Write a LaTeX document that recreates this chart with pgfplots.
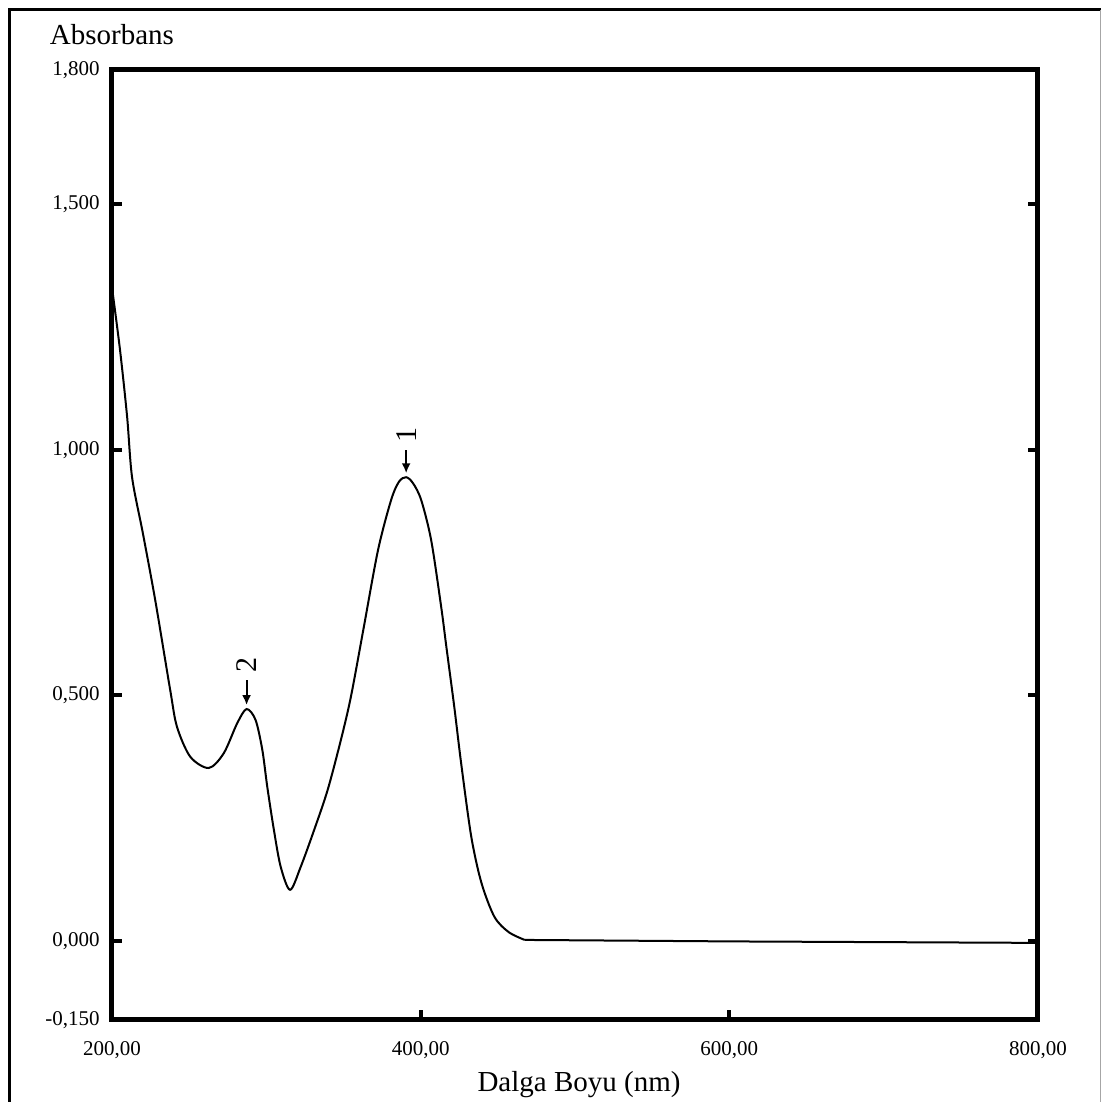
\documentclass[border=0pt]{standalone}
\usepackage{fontspec}
\setmainfont{Liberation Serif}
\usepackage{pgfplots}
\pgfplotsset{compat=1.18}
\usetikzlibrary{arrows.meta}
\begin{document}
\begin{tikzpicture}
\useasboundingbox (-56pt,-41pt) rectangle (495.5pt,510pt);
\begin{axis}[
  scale only axis,
  width=463pt, height=475pt,
  xmin=200, xmax=800,
  ymin=-0.161, ymax=1.773,
  axis line style={line width=2.5pt},
  every tick/.style={black, line width=2pt},
  major tick length=5pt,
  tick align=inside,
  xtick pos=left,
  ytick pos=both,
  xtick={200,400,600,800},
  xticklabels={{200,00},{400,00},{600,00},{800,00}},
  ytick={0,0.5,1,1.5},
  yticklabels={{0,000},{0,500},{1,000},{1,500}},
  extra y ticks={-0.161,1.773},
  extra y tick labels={{-0,150},{1,800}},
  extra y tick style={major tick length=0pt},
  ticklabel style={font=\fontsize{10.5}{12}\selectfont},
  xticklabel style={inner sep=0pt, anchor=north, yshift=-10.5pt},
  yticklabel style={inner sep=0pt, anchor=east, xshift=-6pt},
  xlabel={Dalga Boyu (nm)},
  xlabel style={font=\fontsize{14.5}{16}\selectfont, at={(axis description cs:0.5,0)}, anchor=base, yshift=-36pt, xshift=2pt},
  ylabel={Absorbans},
  ylabel style={font=\fontsize{14.5}{16}\selectfont, rotate=-90, at={(axis description cs:0,1)}, anchor=base, yshift=12.5pt},
  clip=false,
]
\addplot[black, line width=1pt, smooth, tension=0.5] coordinates {
(200,1.33) (205.2,1.203) (209.8,1.067) (213,0.944) (220,0.83) (228,0.694)
(237.7,0.511) (242.1,0.436) (250.7,0.375) (262.7,0.352) (272.4,0.382)
(281.1,0.443) (287.2,0.472) (293,0.450) (297.4,0.389) (300.6,0.314)
(304.9,0.226) (309.3,0.151) (315.4,0.104) (322.3,0.151) (331,0.226)
(339.7,0.307) (348.3,0.409) (354.8,0.497) (363,0.636) (372.4,0.796)
(380.9,0.898) (386,0.935) (390.6,0.944) (395,0.932) (400.3,0.898)
(406.8,0.816) (413.3,0.680) (416.6,0.600) (421.8,0.476) (426.3,0.360)
(432.8,0.212) (439.4,0.118) (447.8,0.049) (457,0.018) (467.4,0.002)
};
\addplot[black, line width=1pt, sharp plot] coordinates {
(467.4,0.002) (600,-0.001) (800,-0.004)
};
\draw[-{Latex[length=5pt,width=4.5pt]}, line width=1pt] (axis cs:287.2,0.531) -- (axis cs:287.2,0.480);
\node[rotate=90, font=\fontsize{15}{16}\selectfont, inner sep=0pt] at (axis cs:287.2,0.562) {2};
\draw[-{Latex[length=5pt,width=4.5pt]}, line width=1pt] (axis cs:390.6,0.999) -- (axis cs:390.6,0.952);
\node[rotate=90, font=\fontsize{15}{16}\selectfont, inner sep=0pt] at (axis cs:390.6,1.03) {1};
\end{axis}
\draw[black, line width=1.5pt] (-51.25pt,-41pt) -- (-51.25pt,505pt) -- (494.4pt,505pt);
\draw[black!35, line width=0.6pt] (494.4pt,505pt) -- (494.4pt,-41pt);
\end{tikzpicture}
\end{document}
